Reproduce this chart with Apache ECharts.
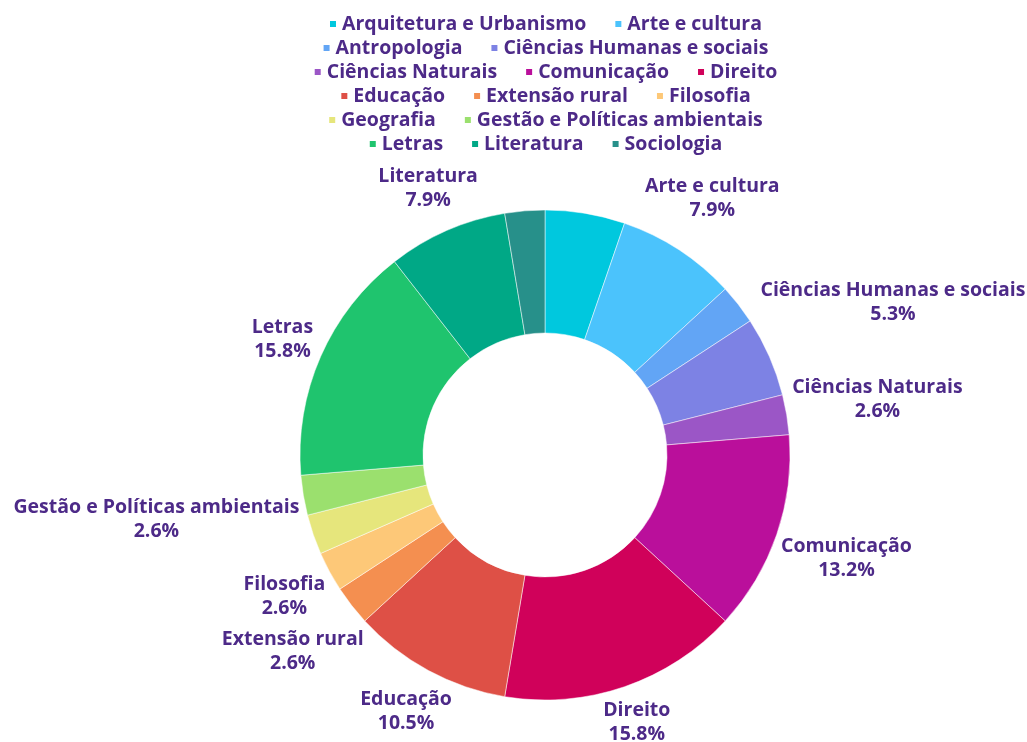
<!DOCTYPE html>
<html>
<head>
<meta charset="utf-8">
<script src="https://cdn.jsdelivr.net/npm/echarts@6/dist/echarts.min.js"></script>
<style>
  html, body { margin: 0; padding: 0; background: #fff; overflow: hidden; }
  /* a bit wider than the window so that 'center' lands on the pie centre */
  #chart { width: 1090px; height: 742px; }
</style>
</head>
<body>
<div id="chart"></div>
<script>
const categories = [
  'Arquitetura e Urbanismo', 'Arte e cultura', 'Antropologia', 'Ciências Humanas e sociais',
  'Ciências Naturais', 'Comunicação', 'Direito', 'Educação', 'Extensão rural', 'Filosofia',
  'Geografia', 'Gestão e Políticas ambientais', 'Letras', 'Literatura', 'Sociologia'
];
const counts = [2, 3, 1, 2, 1, 5, 6, 4, 1, 1, 1, 1, 6, 3, 1];
const colors = [
  '#00c8de', '#4bc3fc', '#62a5f5', '#7d82e4', '#9b56c6', '#ba0f9b', '#d0015a', '#de5046',
  '#f48f50', '#fdc878', '#e6e67c', '#9be06e', '#1fc46e', '#00a886', '#27908a'
];
const legendRows = [
  ['Arquitetura e Urbanismo', 'Arte e cultura'],
  ['Antropologia', 'Ciências Humanas e sociais'],
  ['Ciências Naturais', 'Comunicação', 'Direito'],
  ['Educação', 'Extensão rural', 'Filosofia'],
  ['Geografia', 'Gestão e Políticas ambientais'],
  ['Letras', 'Literatura', 'Sociologia']
];

const TEXT = '#4d2a88';
const FONT = 'Open Sans';
const CX = 545, CY = 455, R_IN = 122, R_OUT = 245;
const LABEL_SIZE = 19.5, LABEL_LH = 24, LABEL_GAP = 4;

const total = counts.reduce((a, b) => a + b, 0);
const pct = v => (v / total * 100).toFixed(1) + '%';

/* 标签布局：放在扇区中线外侧，与已放置的标签重叠则隐藏（大的先放） */
const ctx = document.createElement('canvas').getContext('2d');
ctx.font = `bold ${LABEL_SIZE}px "${FONT}"`;

function labelBox(i, angle) {
  const w = Math.max(ctx.measureText(categories[i]).width, ctx.measureText(pct(counts[i])).width);
  const h = LABEL_LH * 2;
  const s = Math.sin(angle), c = -Math.cos(angle);
  const d = R_OUT + LABEL_GAP + Math.abs(s) * w / 2 + Math.abs(c) * h / 2;
  const x = CX + s * d, y = CY + c * d;
  return { x, y, x0: x - w / 2, x1: x + w / 2, y0: y - h / 2, y1: y + h / 2 };
}

const mids = [];
let cum = 0;
counts.forEach(v => { mids.push((cum + v / 2) / total * 2 * Math.PI); cum += v; });

const order = counts.map((v, i) => i).sort((a, b) => counts[b] - counts[a] || a - b);
const placed = [];
const labelPos = {};
const overlaps = b => placed.some(p => b.x0 < p.x1 && b.x1 > p.x0 && b.y0 < p.y1 && b.y1 > p.y0);

order.forEach(i => {
  const box = labelBox(i, mids[i]);
  if (overlaps(box)) return;
  placed.push(box);
  labelPos[i] = box;
});

const pieData = categories.map((name, i) => ({
  name,
  value: counts[i],
  itemStyle: { color: colors[i] },
  label: { show: !!labelPos[i] }
}));

const textStyle = { color: TEXT, fontFamily: FONT, fontWeight: 'bold', fontSize: LABEL_SIZE };

const chart = echarts.init(document.getElementById('chart'));
chart.setOption({
  backgroundColor: '#fff',
  animation: false,
  legend: legendRows.map((row, r) => ({
    data: row,
    top: 8 + r * 24,
    left: 'center',
    icon: 'rect',
    itemWidth: 8,
    itemHeight: 8,
    itemGap: 27,
    selectedMode: false,
    textStyle: Object.assign({ lineHeight: 22 }, textStyle)
  })),
  series: [{
    type: 'pie',
    center: [CX, CY],
    radius: [R_IN, R_OUT],
    startAngle: 90,
    clockwise: true,
    data: pieData,
    itemStyle: { borderColor: '#fff', borderWidth: 0.5 },
    label: Object.assign({
      position: 'outside',
      lineHeight: LABEL_LH,
      overflow: 'none',
      formatter: p => p.name + '\n' + pct(p.value)
    }, textStyle),
    labelLine: { show: false },
    labelLayout: p => {
      const b = labelPos[p.dataIndex];
      return b ? { x: b.x, y: b.y, align: 'center', verticalAlign: 'middle' } : {};
    },
    emphasis: { disabled: true }
  }]
});
</script>
</body>
</html>
